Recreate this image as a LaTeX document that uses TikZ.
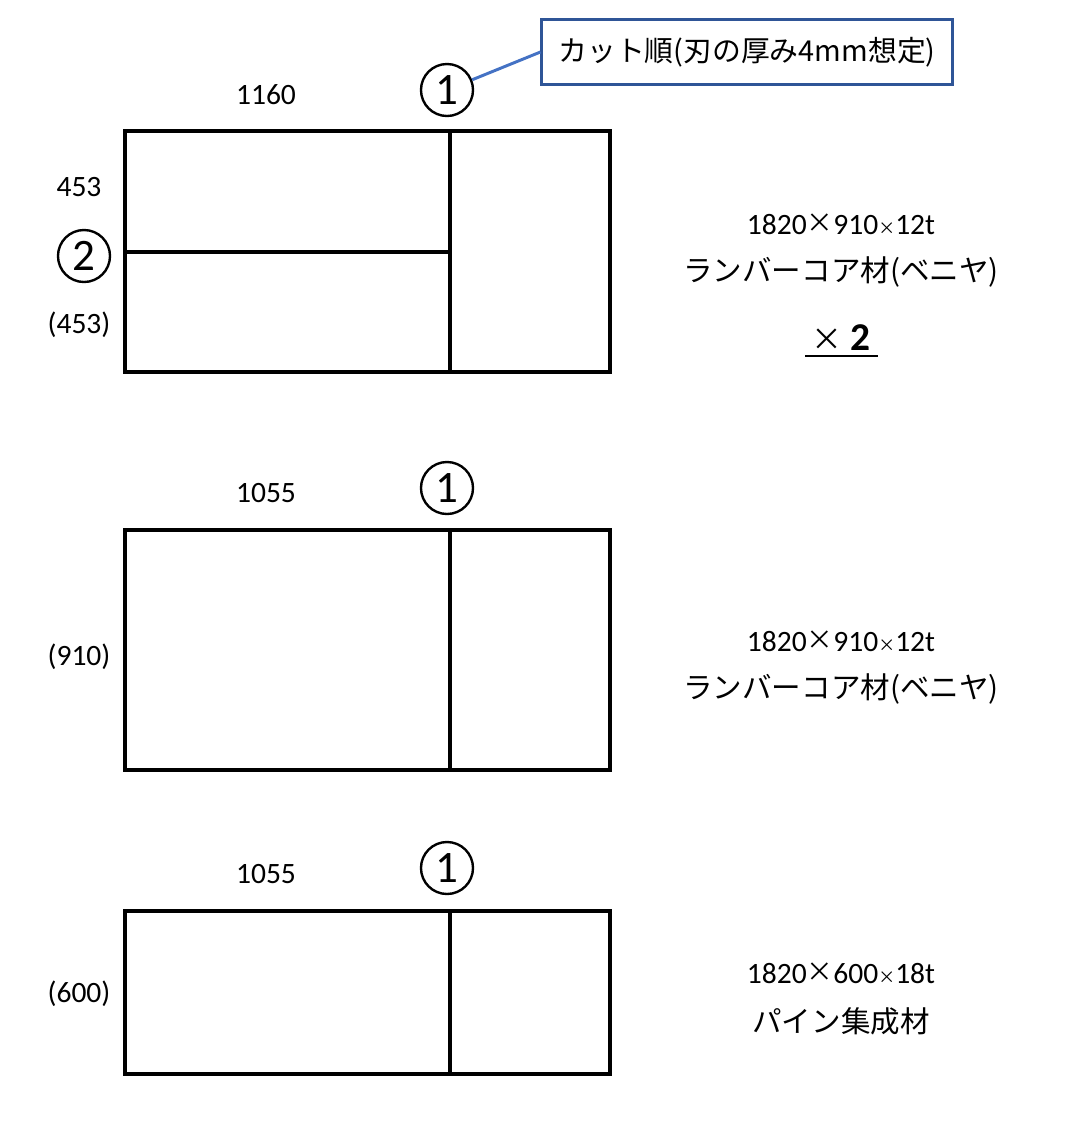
\documentclass[tikz,border=0pt]{standalone}
\usepackage{fontspec}
\setmainfont{Carlito}
\newfontfamily\jp{Noto Sans CJK JP}
\usetikzlibrary{positioning}
\definecolor{notebox}{RGB}{47,85,151}
\definecolor{noteline}{RGB}{68,114,196}

\begin{document}
\begin{tikzpicture}[x=0.025cm, y=-0.025cm,
    board/.style = {line width=2.2pt},
    dim/.style = {font=\fontsize{21}{24}\selectfont, inner sep=0pt},
    spec/.style = {font=\fontsize{21}{24}\selectfont\jp, inner sep=0pt},
    order/.style = {circle, draw, line width=1.7pt, minimum size=1.3cm, inner sep=0pt, font=\fontsize{32}{34}\selectfont}]
    \useasboundingbox (0,0) rectangle (1086,1134);

    % board 1
    \draw[board] (125,131) rectangle (610,372);
    \draw[board] (450,131) -- (450,372) (125,252) -- (450,252);
    \node[dim] (w1) at (266,95) {1160};
    \node[order] (c1) at (447,90) {1};
    \node[dim] (h1a) at (79,187) {453};
    \node[order] (c2) at (84,256) {2};
    \node[dim] (h1b) at (79,325) {(453)};
    \node[spec] (s1) at (841,224) {\fontspec{Carlito}1820\raisebox{0.12ex}{\fontsize{19}{19}\selectfont\jp ×}910{\fontsize{12}{12}\selectfont\jp ×}12t};
    \node[spec] (m1) at (841,272) {ランバーコア材(ベニヤ)};
    \node[spec, font=\fontsize{28}{30}\selectfont] (n1) at (841,338) {{\fontsize{22}{22}\selectfont\jp ×} \textbf{2}};
    \draw[line width=1.4pt] (805,356) -- (878,356);

    % note
    \node[draw=notebox, line width=2.1pt, minimum width=10.25cm, minimum height=1.625cm,
          font=\fontsize{20.5}{24}\selectfont\jp] (note) at (747,52) {カット順(刃の厚み4mm想定)};
    \draw[noteline, line width=2.1pt] (c1) -- (note.west);

    % board 2
    \draw[board] (125,530) rectangle (610,770);
    \draw[board] (450,530) -- (450,770);
    \node[dim] (w2) at (266,493) {1055};
    \node[order] (c3) at (447,488) {1};
    \node[dim] (h2) at (79,657) {(910)};
    \node[spec] (s2) at (841,641) {\fontspec{Carlito}1820\raisebox{0.12ex}{\fontsize{19}{19}\selectfont\jp ×}910{\fontsize{12}{12}\selectfont\jp ×}12t};
    \node[spec] (m2) at (841,689) {ランバーコア材(ベニヤ)};

    % board 3
    \draw[board] (125,911) rectangle (610,1074);
    \draw[board] (450,911) -- (450,1074);
    \node[dim] (w3) at (266,874) {1055};
    \node[order] (c4) at (447,868) {1};
    \node[dim] (h3) at (79,994) {(600)};
    \node[spec] (s3) at (841,973) {\fontspec{Carlito}1820\raisebox{0.12ex}{\fontsize{19}{19}\selectfont\jp ×}600{\fontsize{12}{12}\selectfont\jp ×}18t};
    \node[spec] (m3) at (841,1021) {パイン集成材};
\end{tikzpicture}
\end{document}
